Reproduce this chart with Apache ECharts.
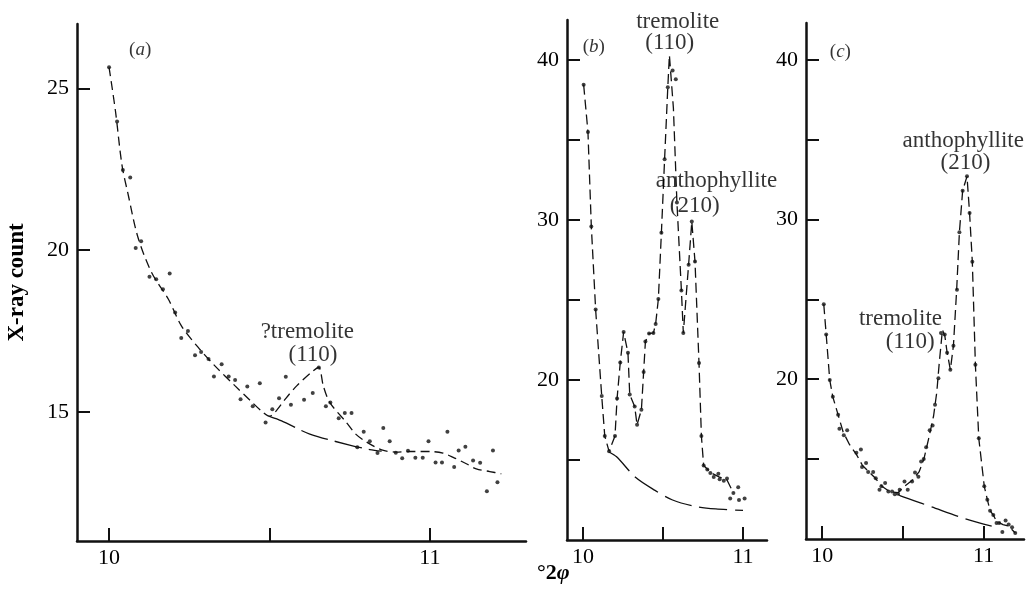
<!DOCTYPE html>
<html><head><meta charset="utf-8">
<script src="https://cdn.jsdelivr.net/npm/echarts@6/dist/echarts.min.js"></script>
<style>html,body{margin:0;padding:0;background:#fff}#c{width:1026px;height:592px}</style>
</head><body><div id="c"></div>
<script>
// ---------- Panel (a) ----------
const dotsA = [[10.0,25.66],[10.025,23.98],[10.043,22.48],[10.066,22.25],[10.083,20.07],[10.10,20.28],[10.126,19.18],[10.147,19.1],[10.168,18.79],[10.189,19.28],[10.206,18.07],[10.225,17.28],[10.246,17.5],[10.268,16.75],[10.287,16.85],[10.31,16.63],[10.327,16.09],[10.351,16.47],[10.373,16.09],[10.393,15.98],[10.41,15.39],[10.431,15.78],[10.448,15.17],[10.47,15.88],[10.488,14.67],[10.509,15.08],[10.53,15.42],[10.551,16.08],[10.567,15.22],[10.608,15.37],[10.635,15.58],[10.654,16.37],[10.676,15.17],[10.69,15.29],[10.716,14.8],[10.735,14.96],[10.756,14.96],[10.774,13.9],[10.794,14.38],[10.813,14.09],[10.837,13.72],[10.855,14.5],[10.875,14.09],[10.894,13.73],[10.914,13.56],[10.932,13.79],[10.955,13.58],[10.978,13.58],[10.996,14.09],[11.018,13.43],[11.038,13.43],[11.055,14.38],[11.076,13.29],[11.09,13.8],[11.111,13.92],[11.135,13.49],[11.157,13.42],[11.178,12.54],[11.197,13.8],[11.211,12.82]];
const curveA = [[10.0,25.66],[10.02,24.3],[10.04,22.65],[10.06,21.7],[10.09,20.4],[10.133,19.3],[10.185,18.48],[10.226,17.65],[10.278,16.99],[10.33,16.42],[10.393,15.8],[10.44,15.35],[10.48,14.98],[10.5,14.86],[10.517,14.98],[10.55,15.4],[10.585,15.8],[10.637,16.27],[10.654,16.37],[10.668,15.8],[10.688,15.29],[10.74,14.67],[10.77,14.3],[10.803,14.06],[10.85,13.82],[10.896,13.75],[10.938,13.77],[11.0,13.77],[11.041,13.72],[11.073,13.59],[11.114,13.39],[11.145,13.23],[11.187,13.15],[11.223,13.08]];
const baseA = [[10.5,14.86],[10.538,14.72],[10.626,14.31],[10.75,13.97],[10.813,13.83],[10.85,13.78]];
const labelsA = [
  {name:'?tremolite', value:[10.618,17.47]},
  {name:'(110)', value:[10.636,16.75]},
  {name:'(a)', value:[10.097,26.19], rich:true}
];
const ticksAx = [10,10.5,11], labelsAx = [10,11];
const ticksAy = [15,20,25], labelsAy = [15,20,25];

// ---------- Panel (b) ----------
const dotsB = [[10.004,38.46],[10.031,35.5],[10.052,29.6],[10.079,24.4],[10.117,19.0],[10.136,16.5],[10.163,15.54],[10.2,16.5],[10.213,18.85],[10.233,21.1],[10.254,23.0],[10.281,21.7],[10.292,19.1],[10.323,18.35],[10.338,17.2],[10.365,18.14],[10.379,20.5],[10.39,22.4],[10.413,22.9],[10.44,22.94],[10.454,23.5],[10.471,25.06],[10.49,29.2],[10.51,33.8],[10.53,38.3],[10.56,39.35],[10.58,38.8],[10.587,31.1],[10.615,25.6],[10.627,22.94],[10.66,27.2],[10.68,29.9],[10.70,27.4],[10.725,21.06],[10.74,16.5],[10.754,14.66],[10.777,14.4],[10.796,14.19],[10.817,13.94],[10.846,14.14],[10.854,13.8],[10.88,13.7],[10.9,13.85],[10.92,12.6],[10.94,12.94],[10.97,13.3],[10.975,12.5],[11.01,12.6]];
const curveB = [[10.004,38.46],[10.031,35.5],[10.052,29.6],[10.079,24.4],[10.117,19.0],[10.136,16.5],[10.163,15.54],[10.2,16.5],[10.213,18.85],[10.233,21.1],[10.254,23.0],[10.281,21.7],[10.292,19.1],[10.323,18.35],[10.338,17.2],[10.365,18.14],[10.379,20.5],[10.39,22.4],[10.413,22.9],[10.44,22.94],[10.454,23.5],[10.471,25.06],[10.49,29.2],[10.51,33.8],[10.53,38.3],[10.54,40.3],[10.565,37.0],[10.587,31.1],[10.615,25.6],[10.627,22.94],[10.66,27.2],[10.68,29.9],[10.70,27.4],[10.725,21.06],[10.74,16.5],[10.754,14.66],[10.8,14.2],[10.85,13.95],[10.9,13.75],[10.94,12.94]];
const baseB = [[10.163,15.5],[10.21,15.2],[10.33,13.9],[10.45,13.1],[10.56,12.5],[10.7,12.1],[10.83,11.94],[11.0,11.85]];
const labelsB = [
  {name:'tremolite', value:[10.592,42.4]},
  {name:'(110)', value:[10.542,41.07]},
  {name:'anthophyllite', value:[10.834,32.41]},
  {name:'(210)', value:[10.698,30.85]},
  {name:'(b)', value:[10.067,40.8], rich:true}
];
const ticksBx = [10,10.5,11], labelsBx = [10,11];
const ticksBy = [15,20,25,30,35,40], labelsBy = [20,30,40];

// ---------- Panel (c) ----------
const dotsC = [[10.01,24.7],[10.025,22.8],[10.047,19.96],[10.066,18.9],[10.099,17.77],[10.107,16.9],[10.134,16.5],[10.155,16.8],[10.212,15.4],[10.24,15.6],[10.247,14.5],[10.272,14.75],[10.285,14.2],[10.316,14.19],[10.332,13.8],[10.355,13.08],[10.367,13.3],[10.39,13.5],[10.41,12.98],[10.433,12.98],[10.45,12.8],[10.47,12.83],[10.48,13.08],[10.51,13.6],[10.53,13.08],[10.557,13.6],[10.575,14.16],[10.596,13.9],[10.613,14.85],[10.629,15.0],[10.644,15.75],[10.666,16.8],[10.684,17.1],[10.699,18.4],[10.72,20.06],[10.736,22.9],[10.759,22.8],[10.774,21.66],[10.794,20.6],[10.813,22.1],[10.835,25.6],[10.85,29.2],[10.87,31.8],[10.897,32.7],[10.913,30.4],[10.93,27.35],[10.949,20.9],[10.97,16.3],[11.004,13.3],[11.023,12.46],[11.04,11.77],[11.06,11.5],[11.08,11.0],[11.096,11.0],[11.116,10.44],[11.136,11.16],[11.155,10.9],[11.176,10.73],[11.196,10.38]];
const curveC = [[10.01,24.7],[10.025,22.8],[10.047,19.96],[10.066,18.9],[10.099,17.77],[10.13,16.7],[10.17,15.9],[10.212,15.3],[10.25,14.6],[10.29,14.2],[10.33,13.8],[10.37,13.3],[10.42,12.95],[10.47,12.9],[10.51,13.3],[10.56,13.7],[10.6,14.2],[10.63,15.0],[10.66,16.3],[10.69,17.7],[10.71,19.2],[10.725,21.0],[10.745,23.1],[10.76,22.7],[10.774,21.66],[10.794,20.6],[10.813,22.1],[10.833,25.6],[10.85,29.2],[10.87,31.8],[10.897,32.7],[10.913,30.4],[10.93,27.35],[10.949,20.9],[10.97,16.3],[11.004,13.3],[11.023,12.46],[11.04,11.77],[11.06,11.5],[11.08,11.1],[11.12,10.9],[11.155,10.8],[11.196,10.38]];
const baseC = [[10.47,12.8],[10.485,12.7],[10.67,12.04],[10.876,11.3],[11.05,10.8]];
const labelsC = [
  {name:'anthophyllite', value:[10.874,34.91]},
  {name:'(210)', value:[10.887,33.52]},
  {name:'tremolite', value:[10.485,23.77]},
  {name:'(110)', value:[10.545,22.35]},
  {name:'(c)', value:[10.113,40.46], rich:true}
];
const ticksCx = [10,10.5,11], labelsCx = [10,11];
const ticksCy = [15,20,25,30,35,40], labelsCy = [20,30,40];

// ---------- styling ----------
const FONT = '"Liberation Serif", "Times New Roman", serif';
const INK = '#111';
const TXT = '#000';

function xAx(gi, min, max, ticks, labs) {
  return {
    type:'value', gridIndex:gi, min:min, max:max,
    axisLine:{show:true, onZero:false, lineStyle:{color:INK, width:2.5}},
    axisTick:{show:true, inside:true, length:13, lineStyle:{color:INK, width:2}, customValues:ticks},
    axisLabel:{show:true, margin:6, color:TXT, fontFamily:FONT, fontSize:22, customValues:labs},
    splitLine:{show:false}
  };
}
function yAx(gi, min, max, ticks, labs, extra) {
  return Object.assign({
    type:'value', gridIndex:gi, min:min, max:max,
    axisLine:{show:true, onZero:false, lineStyle:{color:INK, width:2.5}},
    axisTick:{show:true, inside:true, length:13, lineStyle:{color:INK, width:2}, customValues:ticks},
    axisLabel:{show:true, margin:8, color:TXT, fontFamily:FONT, fontSize:22, customValues:labs},
    splitLine:{show:false}
  }, extra || {});
}
function curve(i, data, dash, smooth) {
  return {type:'line', xAxisIndex:i, yAxisIndex:i, data:data, showSymbol:false, smooth:smooth||false,
    lineStyle:{color:INK, width:1.3, type:dash}, silent:true, z:2};
}
function dots(i, data) {
  return {type:'scatter', xAxisIndex:i, yAxisIndex:i, data:data, symbol:'circle', symbolSize:4,
    itemStyle:{color:INK}, silent:true, z:3};
}
function labels(i, items) {
  return {type:'scatter', xAxisIndex:i, yAxisIndex:i, symbolSize:0, silent:true, clip:false, z:4,
    itemStyle:{color:'rgba(0,0,0,0)'},
    data: items.map(function(d){
      const lab = {show:true, position:'inside', color:TXT, fontFamily:FONT, fontSize:23};
      if (d.rich) {
        const letter = d.name.charAt(1);
        lab.formatter = '({i|' + letter + '})';
        lab.fontSize = 19;
        lab.rich = {i:{fontStyle:'italic', fontFamily:FONT, fontSize:19, color:TXT}};
      } else {
        lab.formatter = d.name;
      }
      return {name:d.name, value:d.value, label:lab};
    })
  };
}

const chart = echarts.init(document.getElementById('c'), null, {renderer:'canvas'});
chart.setOption({
  animation:false,
  backgroundColor:'#fff',
  grid:[
    {left:77, top:24, width:449, height:517, outerBoundsMode:'none', containLabel:false},
    {left:567, top:20, width:200, height:520, outerBoundsMode:'none', containLabel:false},
    {left:806, top:23, width:218, height:516, outerBoundsMode:'none', containLabel:false}
  ],
  xAxis:[
    xAx(0, 9.9, 11.3, ticksAx, labelsAx),
    xAx(1, 9.9, 11.15, ticksBx, labelsBx),
    xAx(2, 9.9, 11.25, ticksCx, labelsCx)
  ],
  yAxis:[
    yAx(0, 11, 27, ticksAy, labelsAy, {name:'X-ray count', nameLocation:'middle', nameRotate:90, nameGap:48,
      nameTextStyle:{color:TXT, fontFamily:FONT, fontSize:23, fontWeight:'bold'}}),
    yAx(1, 10, 42.5, ticksBy, labelsBy),
    yAx(2, 10, 42.3, ticksCy, labelsCy)
  ],
  graphic:[
    {type:'text', left:537, top:562, silent:true,
      style:{text:'°2{i|φ}', fontFamily:FONT, fontSize:22, fontWeight:'bold', fill:TXT,
        rich:{i:{fontStyle:'italic', fontWeight:'bold', fontFamily:FONT, fontSize:22, fill:TXT}}}}
  ],
  series:[
    curve(0, curveA, [9,5], 0.3),
    curve(0, baseA, [28,7], 0.3),
    dots(0, dotsA),
    labels(0, labelsA),
    curve(1, curveB, [10,5]),
    curve(1, baseB, [28,8], 0.3),
    dots(1, dotsB),
    labels(1, labelsB),
    curve(2, curveC, [10,5]),
    curve(2, baseC, [28,8], 0.3),
    dots(2, dotsC),
    labels(2, labelsC)
  ]
});
</script></body></html>
